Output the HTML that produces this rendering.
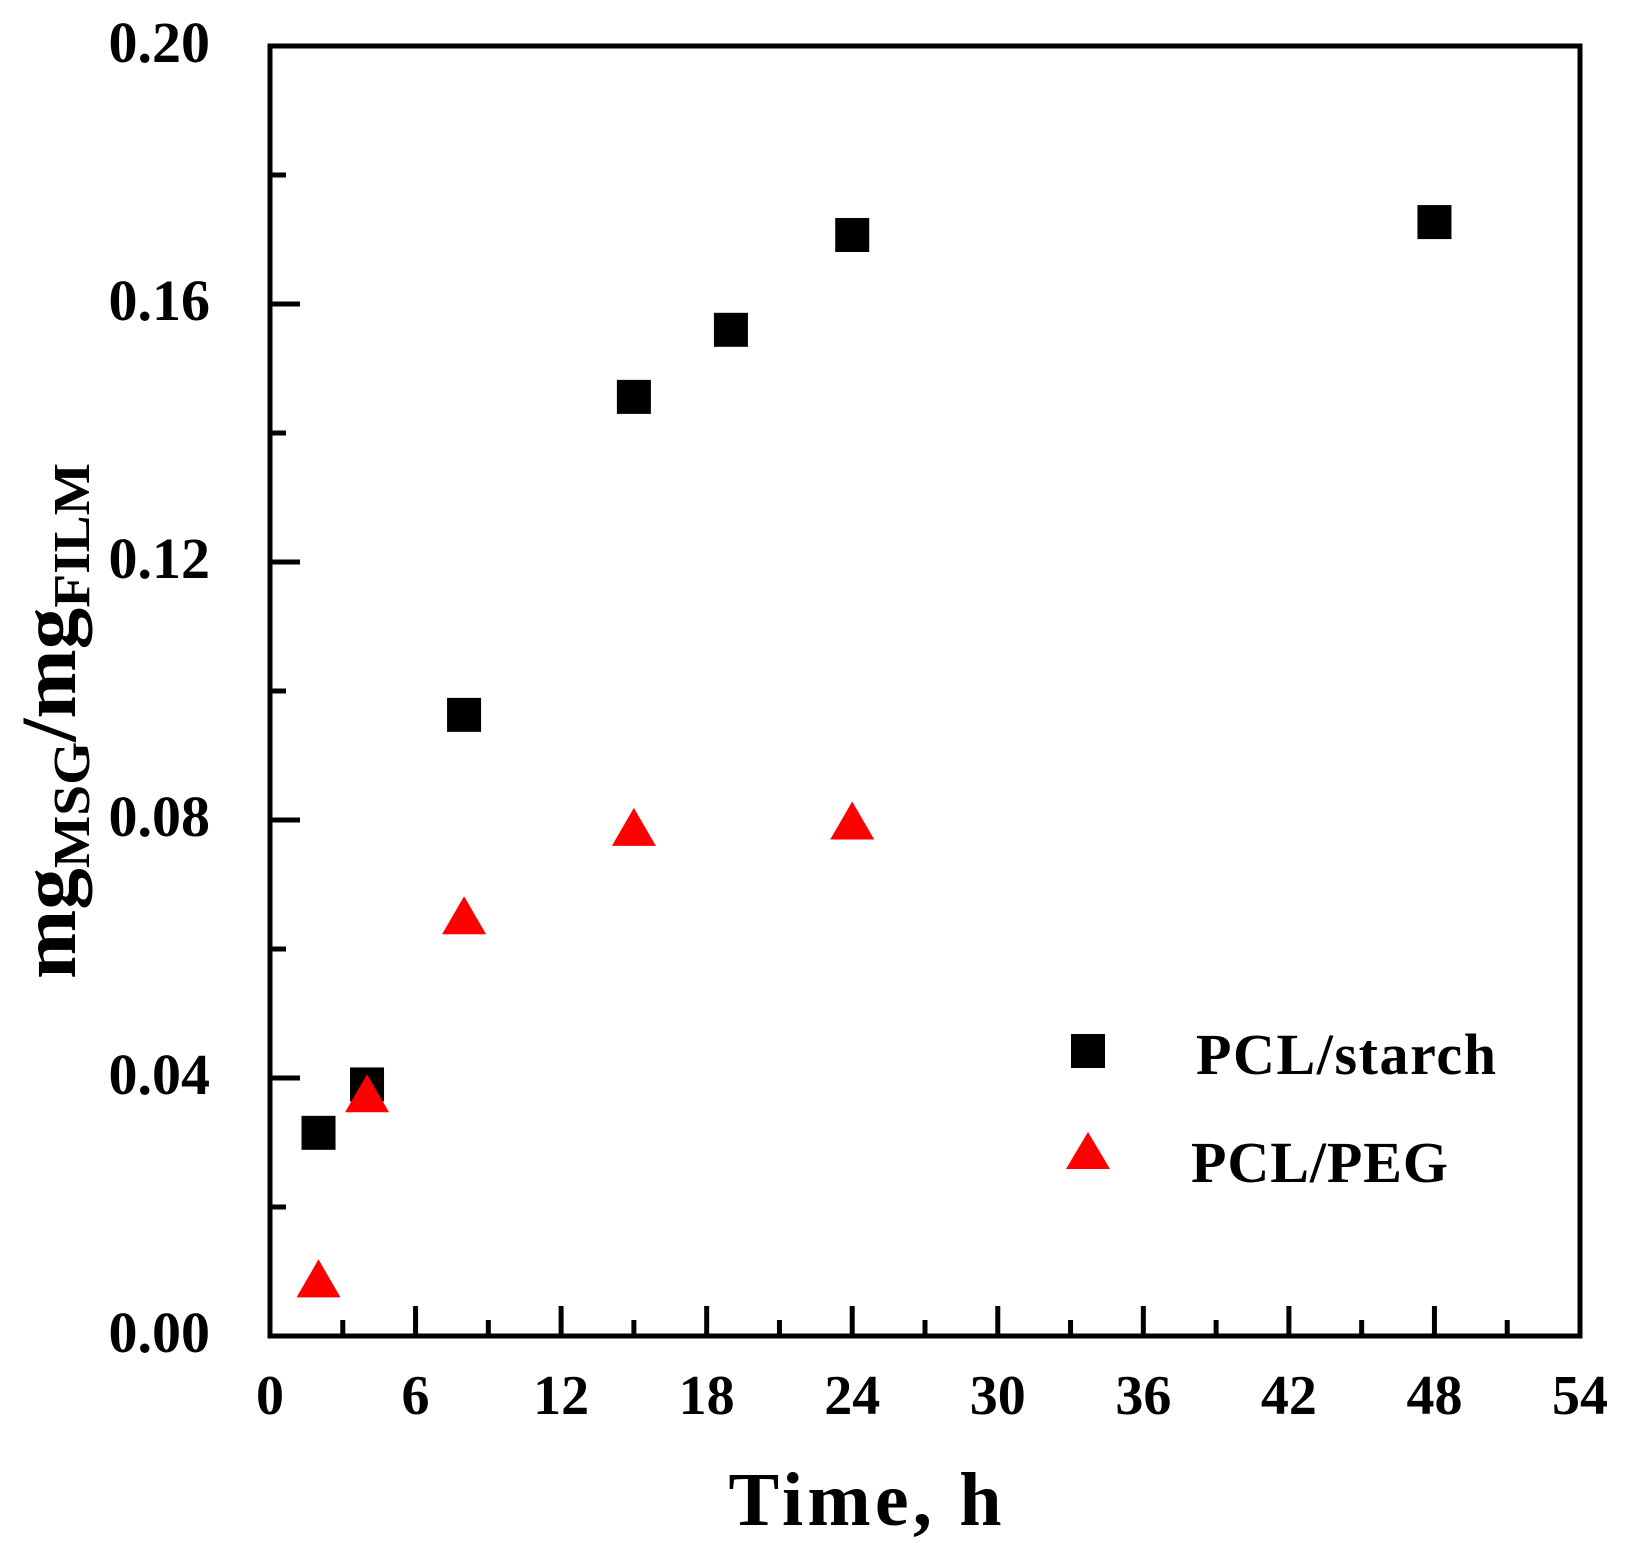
<!DOCTYPE html>
<html><head><meta charset="utf-8"><style>
html,body{margin:0;padding:0;background:#fff;}
svg{display:block;font-family:"Liberation Serif",serif;font-weight:bold;}
</style></head><body>
<svg id="chart" width="1626" height="1543" viewBox="0 0 1626 1543">
<g id="ticks"></g>
<g id="marks"></g>
<rect x="270" y="46" width="1310" height="1290" fill="none" stroke="#000" stroke-width="5"/>
<text x="865" y="1525" font-size="76" text-anchor="middle" textLength="273">Time, h</text>
<text transform="translate(75,721) rotate(-90)" font-size="78" text-anchor="middle" textLength="516" lengthAdjust="spacingAndGlyphs">mg<tspan font-size="52" dy="14">MSG</tspan><tspan dy="-14">/mg</tspan><tspan font-size="52" dy="14">FILM</tspan></text>
<g>
<rect x="1071" y="1034" width="34" height="34" fill="#000"/>
<text x="1196" y="1074" font-size="58" textLength="300">PCL/starch</text>
<polygon points="1088,1132 1110,1169 1066,1169" fill="#ff0000"/>
<text x="1191" y="1182" font-size="58" textLength="257">PCL/PEG</text>
</g>
</svg>
<script>
const xTicks=[0,6,12,18,24,30,36,42,48,54];
const yTicks=[0,0.04,0.08,0.12,0.16,0.20];
const yTickLabels=["0.00","0.04","0.08","0.12","0.16","0.20"];
const starchX=[2,4,8,15,19,24,48];
const starchY=[0.0315,0.039,0.0963,0.1456,0.156,0.1707,0.1727];
const pegX=[2,4,8,15,24];
const pegY=[0.008,0.0367,0.0643,0.078,0.079];
const NS="http://www.w3.org/2000/svg";
const X0=270,X1=1580,Y0=1336,Y1=46;
function sx(v){return X0+(v-0)/(54-0)*(X1-X0);}
function sy(v){return Y0-(v-0)/(0.2-0)*(Y0-Y1);}
function mk(tag,attrs,parent){const e=document.createElementNS(NS,tag);for(const k in attrs)e.setAttribute(k,attrs[k]);parent.appendChild(e);return e;}
const tg=document.getElementById('ticks'),mg=document.getElementById('marks');
for(let v=0;v<=54;v+=3){const major=v%6===0;const l=mk('line',{x1:sx(v),x2:sx(v),y1:Y0,y2:Y0-(major?30:16),stroke:'#000','stroke-width':5},tg);

}
for(let i=0;i<=10;i++){const v=i*0.02;const major=i%2===0;const l=mk('line',{x1:X0,x2:X0+(major?30:16),y1:sy(v),y2:sy(v),stroke:'#000','stroke-width':5},tg);

}
xTicks.forEach(v=>{const t=mk('text',{x:sx(v),y:1414,'font-size':56,'text-anchor':'middle'},tg);t.textContent=v;

});
yTicks.forEach((v,i)=>{const t=mk('text',{x:210,y:sy(v)+16,'font-size':58,'text-anchor':'end'},tg);t.textContent=yTickLabels[i];

});
starchX.forEach((x,i)=>{const r=mk('rect',{x:sx(x)-17,y:sy(starchY[i])-17,width:34,height:34,fill:'#000'},mg);

});
pegX.forEach((x,i)=>{const cx=sx(x),cy=sy(pegY[i]);const p=mk('polygon',{points:`${cx},${cy-25} ${cx+22},${cy+13} ${cx-22},${cy+13}`,fill:'#ff0000'},mg);

});
</script>
</body></html>
